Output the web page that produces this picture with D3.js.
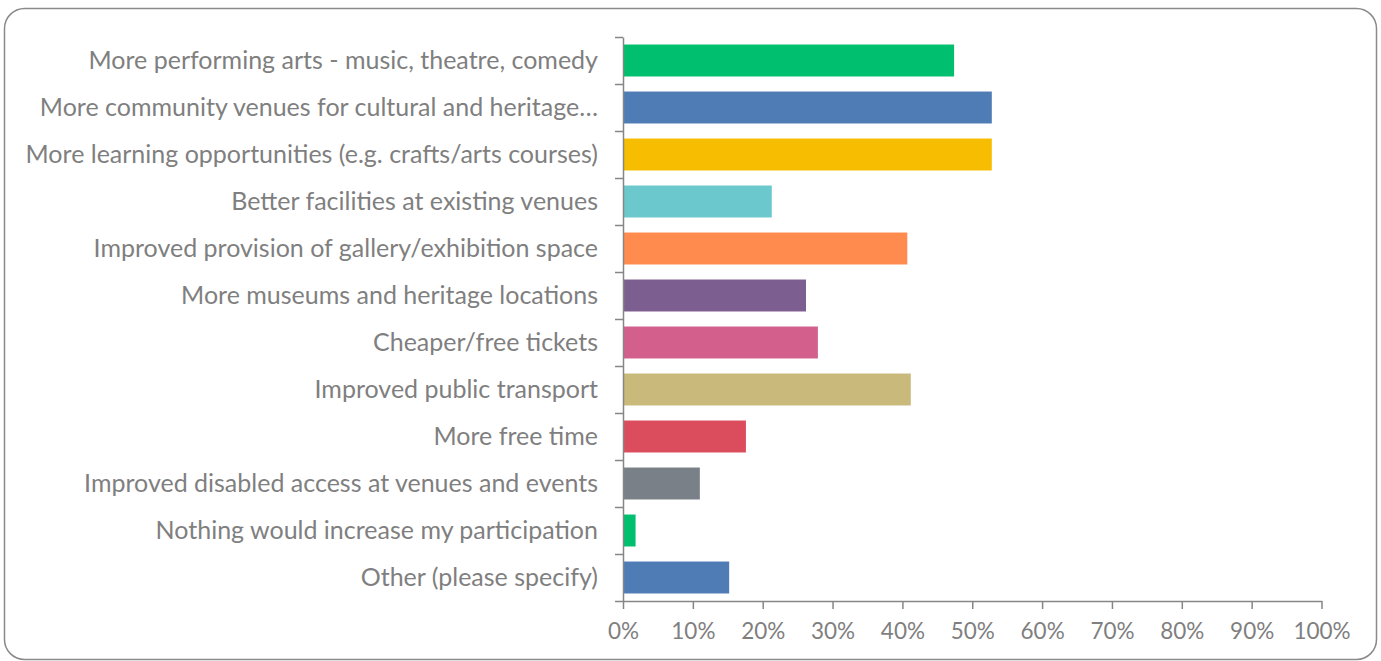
<!DOCTYPE html>
<html>
<head>
<meta charset="utf-8">
<script src="https://cdn.jsdelivr.net/npm/d3@7"></script>
<style>
  html, body { margin: 0; padding: 0; background: #fff; }
  svg { display: block; }
  text { font-family: Lato, "Open Sans", sans-serif; }
</style>
</head>
<body>
<svg id="chart" width="1381" height="661"></svg>
<script>
// Survey responses: what would increase participation in culture and heritage
const categories = [
  "More performing arts - music, theatre, comedy",
  "More community venues for cultural and heritage…",
  "More learning opportunities (e.g. crafts/arts courses)",
  "Better facilities at existing venues",
  "Improved provision of gallery/exhibition space",
  "More museums and heritage locations",
  "Cheaper/free tickets",
  "Improved public transport",
  "More free time",
  "Improved disabled access at venues and events",
  "Nothing would increase my participation",
  "Other (please specify)"
];
const shares = [0.474, 0.528, 0.528, 0.213, 0.407, 0.262, 0.279, 0.412, 0.176, 0.110, 0.018, 0.152];
const barColors = ["#00BF6F", "#507CB6", "#F7BD00", "#6BC8CD", "#FF8B4F", "#7D5E90",
                   "#D35F8D", "#C9B97A", "#DB4D5C", "#7A8087", "#00BF6F", "#507CB6"];
const xTicks = [0, 0.1, 0.2, 0.3, 0.4, 0.5, 0.6, 0.7, 0.8, 0.9, 1.0];

const svg = d3.select("#chart");
const axisColor = "#868686";
const textColor = "#7f7f7f";

// Rounded frame around the chart area
svg.append("rect")
  .attr("x", 4.5).attr("y", 8.5)
  .attr("width", 1372).attr("height", 651)
  .attr("rx", 20).attr("ry", 20)
  .attr("fill", "#fff")
  .attr("stroke", "#8a8a8a")
  .attr("stroke-width", 1.5);

const plot = { left: 623, right: 1321.5, top: 37, bottom: 601 };

const x = d3.scaleLinear().domain([0, 1]).range([plot.left, plot.right]);
const y = d3.scaleBand()
  .domain(categories)
  .range([plot.top, plot.bottom])
  .paddingInner(0.32)
  .paddingOuter(0.16);

// Bars
svg.append("g").selectAll("rect")
  .data(categories)
  .join("rect")
  .attr("x", x(0))
  .attr("y", d => y(d))
  .attr("width", (d, i) => x(shares[i]) - x(0))
  .attr("height", y.bandwidth())
  .attr("fill", (d, i) => barColors[i]);

// Category axis: line with ticks on band boundaries
const slot = d3.scaleLinear().domain([0, categories.length]).range([plot.top, plot.bottom]);
const yAxis = svg.append("g")
  .attr("transform", `translate(${plot.left},0)`)
  .call(d3.axisLeft(slot).tickValues(d3.range(categories.length + 1)).tickSize(8).tickSizeOuter(0).tickFormat(""));
yAxis.select(".domain").attr("stroke", axisColor).attr("stroke-width", 1.5);
yAxis.selectAll(".tick line").attr("stroke", axisColor).attr("stroke-width", 1.5);

// Category labels
svg.append("g").selectAll("text")
  .data(categories)
  .join("text")
  .attr("x", plot.left - 25)
  .attr("y", d => y(d) + y.bandwidth() / 2)
  .attr("dy", "0.35em")
  .attr("text-anchor", "end")
  .attr("fill", textColor)
  .style("font-size", "25px")
  .text(d => d);

// Value axis
const xAxis = svg.append("g")
  .attr("transform", `translate(0,${plot.bottom})`)
  .call(d3.axisBottom(x).tickValues(xTicks).tickSize(8).tickSizeOuter(0).tickPadding(14)
    .tickFormat(d3.format(".0%")));
xAxis.select(".domain").attr("stroke", axisColor).attr("stroke-width", 1.5);
xAxis.selectAll(".tick line").attr("stroke", axisColor).attr("stroke-width", 1.5);
xAxis.selectAll(".tick text")
  .attr("fill", textColor)
  .style("font-size", "22.5px")
  .style("font-family", "Lato, 'Open Sans', sans-serif");
</script>
</body>
</html>
